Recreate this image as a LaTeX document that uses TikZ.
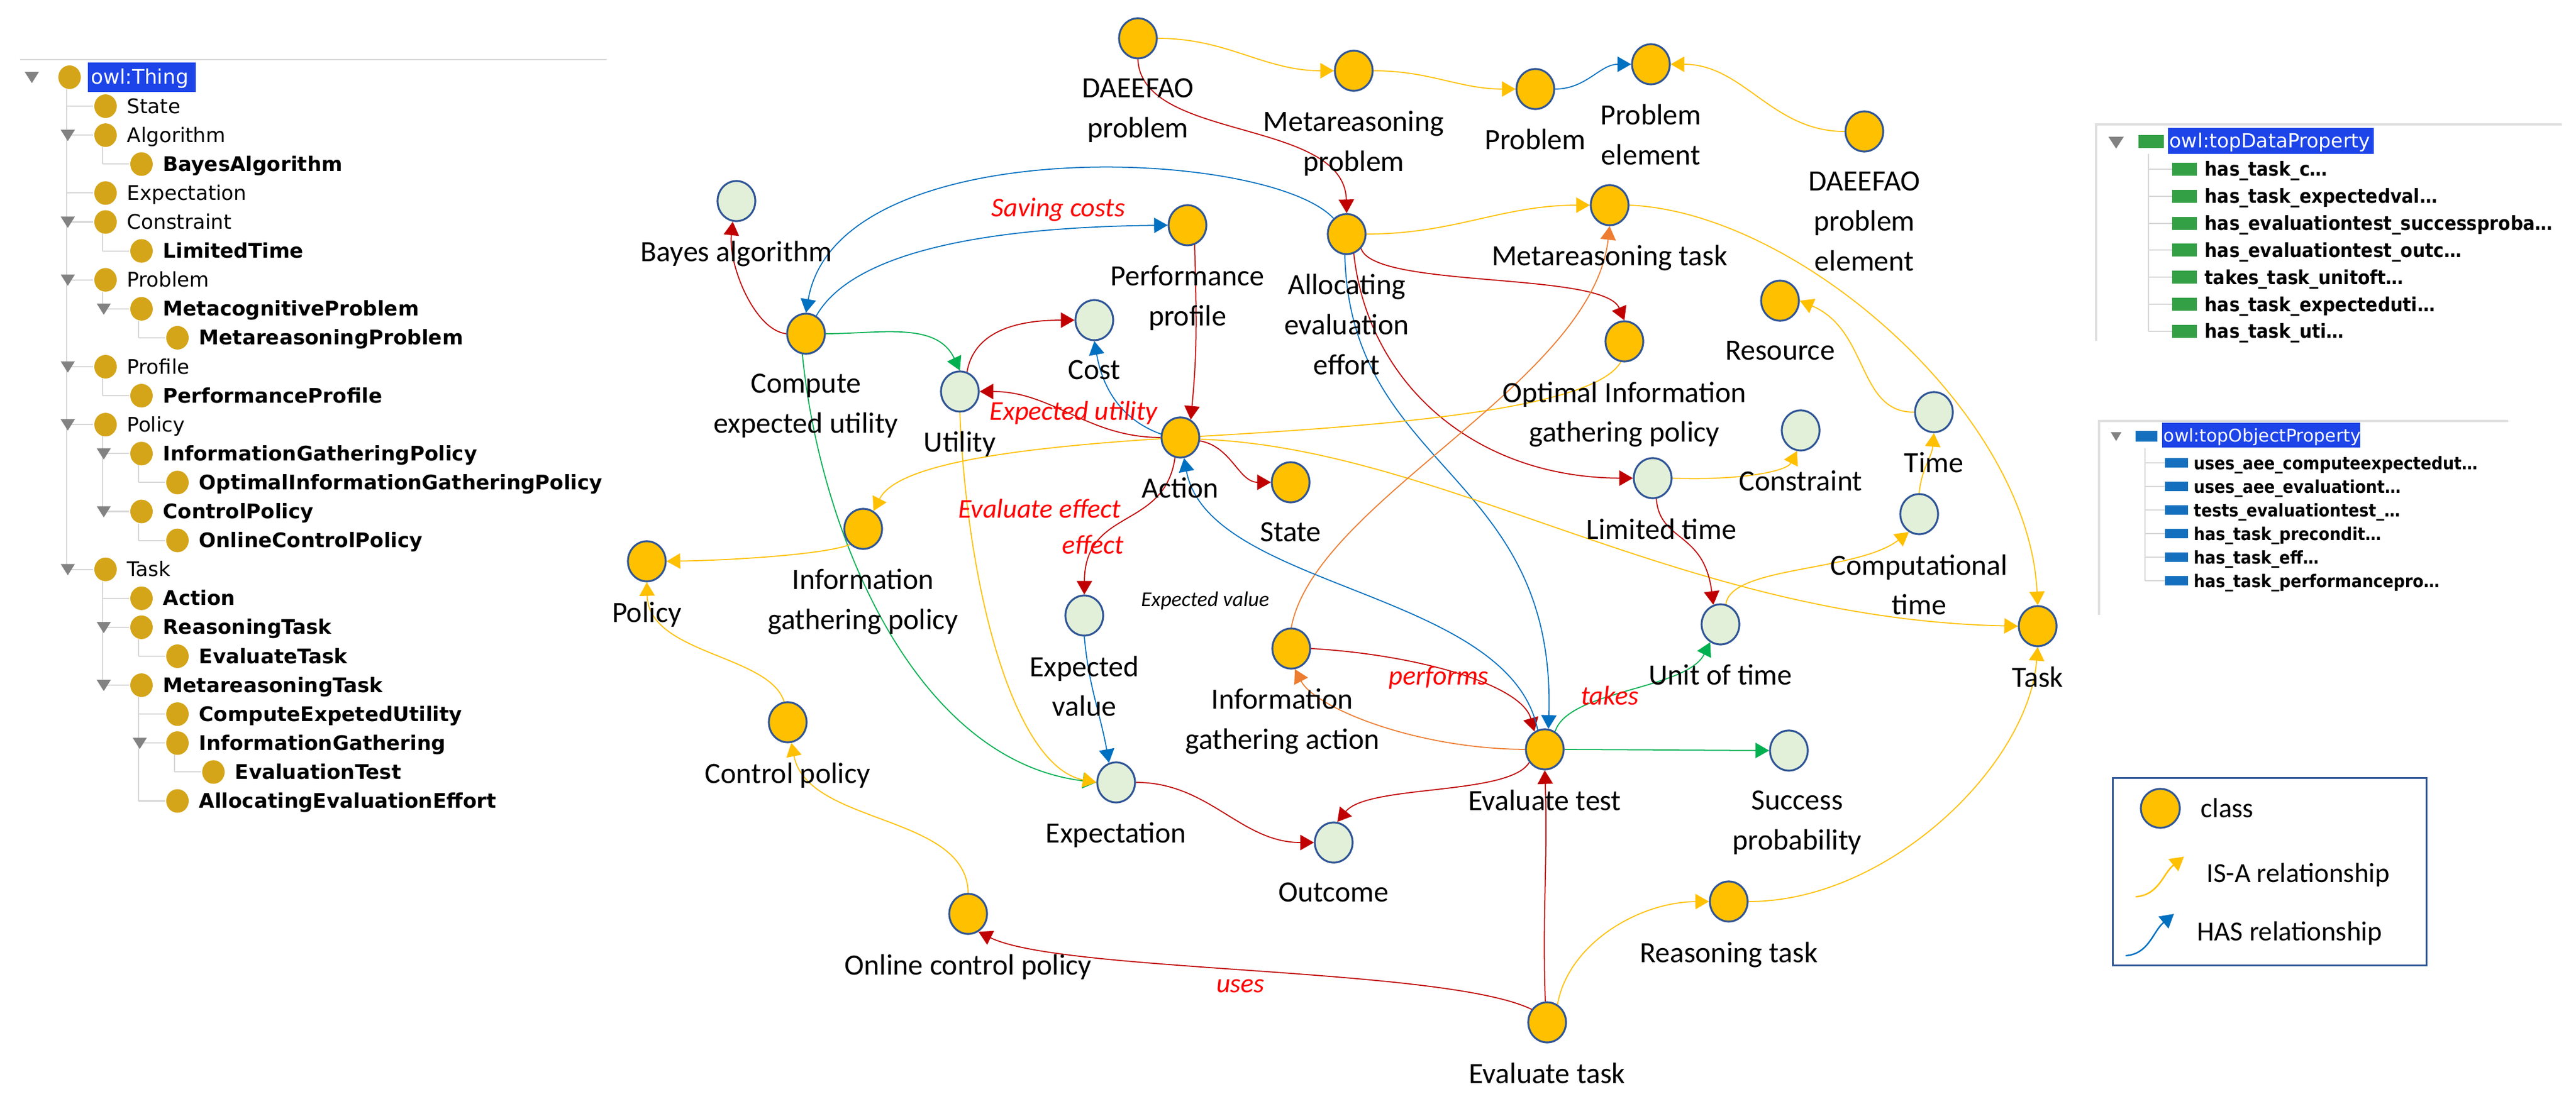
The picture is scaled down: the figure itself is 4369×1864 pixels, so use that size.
\documentclass[tikz,border=0pt]{standalone}
\usepackage{fontspec}
\setmainfont{Carlito}
\newfontfamily\protegefont{DejaVu Sans}
\usepackage{graphicx}
\usetikzlibrary{shapes.geometric,arrows.meta,backgrounds}

\definecolor{clsfill}{RGB}{255,192,0}
\definecolor{clsline}{RGB}{47,85,151}
\definecolor{valfill}{RGB}{226,240,217}
\definecolor{isacol}{RGB}{255,192,0}
\definecolor{hascol}{RGB}{0,112,192}
\definecolor{redcol}{RGB}{192,0,0}
\definecolor{greencol}{RGB}{0,176,80}
\definecolor{orangecol}{RGB}{237,125,49}
\definecolor{lblred}{RGB}{255,0,0}
\definecolor{treegold}{RGB}{212,165,25}
\definecolor{treeline}{RGB}{215,215,215}
\definecolor{treearrow}{RGB}{130,130,130}
\definecolor{selblue}{RGB}{28,68,232}
\definecolor{dpgreen}{RGB}{52,160,70}
\definecolor{opblue}{RGB}{20,112,190}

\tikzset{
	classnode/.style={ellipse, draw=clsline, line width=0.9pt, fill=clsfill,
		minimum width=0.64cm, minimum height=0.68cm, inner sep=0pt},
	valuenode/.style={classnode, fill=valfill},
	lbl/.style={align=center, font=\fontsize{14.2}{19.3}\selectfont, inner sep=0pt, label distance=0.32cm},
	relline/.style={line width=0.5pt, -{Triangle[length=0.23cm,width=0.26cm]}},
	isa/.style={relline, draw=isacol},
	hasrel/.style={relline, draw=hascol},
	redrel/.style={relline, draw=redcol},
	greenrel/.style={relline, draw=greencol},
	orangerel/.style={relline, draw=orangecol},
	rellbl/.style={anchor=base, inner sep=0pt, text=lblred, font=\fontsize{13.1}{15}\selectfont\itshape},
	smalllbl/.style={anchor=base, inner sep=0pt, font=\fontsize{10.2}{12}\selectfont\itshape},
	treedot/.style={ellipse, fill=treegold, minimum width=0.38cm, minimum height=0.40cm, inner sep=0pt},
	treetext/.style={anchor=base west, inner sep=0pt, font=\protegefont\fontsize{9.7}{11}\selectfont},
	treelink/.style={draw=treeline, line width=0.6pt},
	panelline/.style={draw=black!12, line width=1.2pt},
	selbox/.style={fill=selblue, inner sep=0pt, anchor=west},
	dptext/.style={anchor=base west, inner sep=0pt, font=\protegefont\fontsize{9.4}{11}\selectfont},
	optext/.style={anchor=base west, inner sep=0pt, font=\protegefont\fontsize{8.5}{10}\selectfont},
	legtext/.style={anchor=base west, inner sep=0pt, font=\fontsize{13.3}{15}\selectfont}
}

\begin{document}
\begin{tikzpicture}[x=0.01cm,y=-0.01cm]
	\useasboundingbox (0,0) rectangle (4369,1864);

	% class hierarchy
	\draw[black!15, line width=0.8pt] (34,101) -- (1029,101);
	\foreach \p/\l/\c in {0/0/17, 2/1/3, 5/1/6, 7/1/8, 8/2/9, 10/1/11, 12/1/15, 13/2/14, 15/2/16, 17/1/21, 19/2/20, 21/2/25, 23/3/24}
		\draw[treelink] ({113+61*\l},{151+49.1*\p}) -- ({113+61*\l},{131+49.1*\c});
	\foreach \row/\lvl/\name in {1/1/State, 2/1/Algorithm, 4/1/Expectation, 5/1/Constraint, 7/1/Problem, 10/1/Profile, 12/1/Policy, 17/1/Task}{
		\draw[treelink] ({52+61*\lvl},{131+49.1*\row}) -- ({97+61*\lvl},{131+49.1*\row});
		\node[treedot] (dot\row) at ({118+61*\lvl},{131+49.1*\row}) {};
		\node[treetext] (item\row) at ({154+61*\lvl},{143+49.1*\row}) {\name};
	}
	\foreach \row/\lvl/\name in {3/2/BayesAlgorithm, 6/2/LimitedTime, 8/2/MetacognitiveProblem, 9/3/MetareasoningProblem,
		11/2/PerformanceProfile, 13/2/InformationGatheringPolicy, 14/3/OptimalInformationGatheringPolicy,
		15/2/ControlPolicy, 16/3/OnlineControlPolicy, 18/2/Action, 19/2/ReasoningTask, 20/3/EvaluateTask,
		21/2/MetareasoningTask, 22/3/ComputeExpetedUtility, 23/3/InformationGathering, 24/4/EvaluationTest,
		25/3/AllocatingEvaluationEffort}{
		\draw[treelink] ({52+61*\lvl},{131+49.1*\row}) -- ({97+61*\lvl},{131+49.1*\row});
		\node[treedot] (dot\row) at ({118+61*\lvl},{131+49.1*\row}) {};
		\node[treetext] (item\row) at ({154+61*\lvl},{143+49.1*\row}) {\bfseries\name};
	}
	\foreach \row/\lvl in {0/0, 2/1, 5/1, 7/1, 8/2, 10/1, 12/1, 13/2, 15/2, 17/1, 19/2, 21/2, 23/3}
		\fill[treearrow] ({42+61*\lvl},{122+49.1*\row}) -- ++(24,0) -- ++(-12,19) -- cycle;
	\node[treedot] (dot0) at (118,131) {};
	\node[selbox, minimum width=1.83cm, minimum height=0.50cm] (thingsel) at (148,131) {};
	\node[treetext, text=white] (item0) at (154,143) {owl:Thing};

	% data properties
	\draw[panelline] (3555,578) -- (3555,211) -- (4345,211);
	\fill[treearrow] (3576,232) -- ++(26,0) -- ++(-13,20) -- cycle;
	\node[fill=dpgreen, minimum width=0.43cm, minimum height=0.21cm, inner sep=0pt] (dphead) at (3648,240) {};
	\node[selbox, minimum width=3.49cm, minimum height=0.44cm] (dpsel) at (3676,239) {};
	\node[dptext, text=white] (dptitle) at (3679,251) {owl:topDataProperty};
	\draw[treelink] (3644,261) -- (3644,562);
	\foreach \k/\pname in {0/has\_task\_c\dots, 1/has\_task\_expectedval\dots, 2/has\_evaluationtest\_successproba\dots,
		3/has\_evaluationtest\_outc\dots, 4/takes\_task\_unitoft\dots, 5/has\_task\_expecteduti\dots, 6/has\_task\_uti\dots}{
		\draw[treelink] (3644,{287+45.8*\k}) -- (3684,{287+45.8*\k});
		\node[fill=dpgreen, minimum width=0.42cm, minimum height=0.22cm, inner sep=0pt] (dpicon\k) at (3705,{287+45.8*\k}) {};
		\node[dptext] (dpname\k) at (3739,{299+45.8*\k}) {\scalebox{0.9}[1]{\bfseries\pname}};
	}

	% object properties
	\draw[panelline] (3560,1043) -- (3560,714) -- (4254,714);
	\fill[treearrow] (3580,733) -- ++(18,0) -- ++(-9,15) -- cycle;
	\node[fill=opblue, minimum width=0.37cm, minimum height=0.18cm, inner sep=0pt] (ophead) at (3640,740) {};
	\node[selbox, minimum width=3.36cm, minimum height=0.41cm] (opsel) at (3666,738) {};
	\node[optext, text=white] (optitle) at (3669,749) {owl:topObjectProperty};
	\draw[treelink] (3638,760) -- (3638,985);
	\foreach \k/\pname in {0/uses\_aee\_computeexpectedut\dots, 1/uses\_aee\_evaluationt\dots, 2/tests\_evaluationtest\_\dots,
		3/has\_task\_precondit\dots, 4/has\_task\_eff\dots, 5/has\_task\_performancepro\dots}{
		\draw[treelink] (3638,{785+40*\k}) -- (3672,{785+40*\k});
		\node[fill=opblue, minimum width=0.39cm, minimum height=0.16cm, inner sep=0pt] (opicon\k) at (3691,{785+40*\k}) {};
		\node[optext] (opname\k) at (3720,{796+40*\k}) {\scalebox{0.9}[1]{\bfseries\pname}};
	}

	% ontology graph
	\node[classnode, label={[lbl]below:DAEEFAO\\problem}] (dp) at (1930,65) {};
	\node[classnode, label={[lbl]below:Metareasoning\\problem}] (mp) at (2296,120) {};
	\node[classnode, label={[lbl]below:Problem}] (prob) at (2604,151) {};
	\node[classnode, label={[lbl]below:Problem\\element}] (pe) at (2800,109) {};
	\node[classnode, label={[lbl]below:DAEEFAO\\problem\\element}] (dpe) at (3162,223) {};
	\node[valuenode, label={[lbl]below:Bayes algorithm}] (bayes) at (1249,341) {};
	\node[classnode, label={[lbl]below:Performance\\profile}] (pp) at (2014,382) {};
	\node[classnode, label={[lbl]below:Allocating\\evaluation\\effort}] (aee) at (2284,397) {};
	\node[classnode, label={[lbl]below:Metareasoning task}] (mt) at (2730,348) {};
	\node[classnode, label={[lbl]below:Compute\\expected utility}] (ceu) at (1367,566) {};
	\node[valuenode, label={[lbl]below:Cost}] (cost) at (1856,543) {};
	\node[valuenode, label={[lbl]below:Utility}] (util) at (1628,664) {};
	\node[classnode, label={[lbl]below:Optimal Information\\gathering policy}] (oigp) at (2755,579) {};
	\node[classnode, label={[lbl]below:Resource}] (res) at (3019,510) {};
	\node[valuenode, label={[lbl]below:Time}] (time) at (3280,699) {};
	\node[valuenode, label={[lbl]below:Constraint}] (cons) at (3054,730) {};
	\node[classnode, label={[lbl]below:Action}] (action) at (2002,742) {};
	\node[classnode, label={[lbl]below:State}] (state) at (2189,818) {};
	\node[valuenode, label={[lbl, xshift=0.15cm]below:Limited time}] (lt) at (2803,811) {};
	\node[classnode, label={[lbl]below:Information\\gathering policy}] (igp) at (1464,897) {};
	\node[classnode, label={[lbl]below:Policy}] (policy) at (1097,952) {};
	\node[valuenode, label={[lbl]below:Computational\\time}] (ct) at (3255,872) {};
	\node[valuenode, label={[lbl]below:Expected\\value}] (ev) at (1839,1044) {};
	\node[valuenode, label={[lbl]below:Unit of time}] (uot) at (2918,1059) {};
	\node[classnode, label={[lbl]below:Task}] (task) at (3456,1062) {};
	\node[classnode, label={[lbl, xshift=-0.15cm]below:Information\\gathering action}] (iga) at (2190,1100) {};
	\node[classnode, label={[lbl]below:Control policy}] (cp) at (1336,1225) {};
	\node[classnode, label={[lbl]below:Evaluate test}] (et) at (2620,1271) {};
	\node[valuenode, label={[lbl, xshift=0.14cm]below:Success\\probability}] (sp) at (3034,1273) {};
	\node[valuenode, label={[lbl]below:Expectation}] (expn) at (1893,1327) {};
	\node[valuenode, label={[lbl]below:Outcome}] (outcome) at (2262,1429) {};
	\node[classnode, label={[lbl]below:Reasoning task}] (rt) at (2932,1529) {};
	\node[classnode, label={[lbl]below:Online control policy}] (ocp) at (1642,1550) {};
	\node[classnode, label={[lbl]below:Evaluate task}] (etask) at (2624,1734) {};

	\node[rellbl] (lsaving) at (1795,368) {Saving costs};
	\node[rellbl] (lexputil) at (1821,712) {Expected utility};
	\node[rellbl] (levaleff) at (1763,878) {Evaluate effect};
	\node[rellbl] (leffect) at (1854,939) {effect};
	\node[smalllbl] (lexpval) at (2044,1028) {Expected value};
	\node[rellbl] (lperforms) at (2440,1161) {performs};
	\node[rellbl] (ltakes) at (2730,1195) {takes};
	\node[rellbl] (luses) at (2104,1683) {uses};

	% legend
	\node[draw=clsline, line width=0.85pt, minimum width=5.31cm, minimum height=3.17cm, inner sep=0pt] (legend) at (3849.5,1478.5) {};
	\node[classnode, minimum width=0.66cm, minimum height=0.66cm] (legcls) at (3664,1371) {};
	\node[legtext] (legclstxt) at (3732,1386) {class};
	\coordinate (isafrom) at (3622,1521);
	\coordinate (isato) at (3704,1453);
	\coordinate (hasfrom) at (3605,1621);
	\coordinate (hasto) at (3687,1550);
	\node[legtext] (legisatxt) at (3742,1496) {IS-A relationship};
	\node[legtext] (leghastxt) at (3726,1595) {HAS relationship};

	\begin{scope}[on background layer]
		\fill[white] (0,0) rectangle (4369,1864);
		\draw[isa, line width=0.7pt] (isafrom) .. controls (3662,1518) and (3668,1482) .. (isato);
		\draw[hasrel, line width=0.7pt] (hasfrom) .. controls (3645,1618) and (3651,1580) .. (hasto);

		\draw[isa] (dp.east) to[out=0,in=180] (mp.west);
		\draw[isa] (mp.east) to[out=0,in=180] (prob.west);
		\draw[hasrel] (prob.east) to[out=0,in=180] (pe.west);
		\draw[isa] (dpe.west) to[out=180,in=0] (pe.east);
		\draw[redrel] (dp.south) .. controls (1935,240) and (2280,200) .. (aee.north);

		\draw[isa] (aee.east) to[out=0,in=180] (mt.west);
		\draw[redrel] (aee.-45) .. controls (2330,490) and (2720,460) .. (oigp.north);
		\draw[redrel] (aee.-70) .. controls (2320,650) and (2500,810) .. (lt.west);
		\draw[hasrel] (aee.130) .. controls (2150,250) and (1420,220) .. (ceu.north);
		\draw[hasrel] (aee.-95) .. controls (2290,800) and (2640,800) .. (et.80);
		\draw[isa] (mt.east) .. controls (3050,360) and (3440,700) .. (task.north);

		\draw[hasrel] (ceu.60) .. controls (1450,420) and (1700,385) .. (pp.west);
		\draw[redrel] (ceu.west) .. controls (1280,560) and (1235,450) .. (bayes.-100);
		\draw[greenrel] (ceu.east) to[out=0,in=115] (util.north);
		\draw[greenrel] (ceu.-100) .. controls (1390,900) and (1550,1290) .. (expn.west);

		\draw[redrel] (util.70) to[out=80,in=180] (cost.west);
		\draw[hasrel] (action.170) to[out=160,in=-80] (cost.south);
		\draw[redrel] (action.west) to[out=180,in=0] (util.east);
		\draw[redrel] (pp.-70) .. controls (2030,550) and (2030,600) .. (action.60);
		\draw[redrel] (action.-10) to[out=-10,in=180] (state.west);
		\draw[redrel] (action.-105) .. controls (1975,900) and (1840,860) .. (ev.north);
		\draw[isa] (oigp.-100) .. controls (2700,700) and (2300,725) .. (action.center)
			.. controls (1700,760) and (1520,790) .. (igp.60);
		\draw[isa] (action.-5) .. controls (2450,760) and (2850,1050) .. (task.west);

		\draw[isa] (lt.east) .. controls (2950,815) and (3030,800) .. (cons.-100);
		\draw[redrel] (lt.-80) .. controls (2815,920) and (2890,900) .. (uot.110);
		\draw[isa] (time.west) .. controls (3150,700) and (3170,560) .. (res.east);
		\draw[isa] (ct.north) to[out=85,in=-95] (time.south);
		\draw[isa] (uot.75) .. controls (2935,960) and (3150,970) .. (ct.-120);

		\draw[greenrel] (et.60) .. controls (2660,1170) and (2860,1170) .. (uot.-120);
		\draw[redrel] (iga.east) .. controls (2400,1110) and (2580,1160) .. (et.120);
		\draw[orangerel] (et.west) .. controls (2400,1270) and (2230,1200) .. (iga.-80);
		\draw[orangerel] (iga.north) .. controls (2230,850) and (2700,650) .. (mt.south);
		\draw[hasrel] (et.110) .. controls (2560,1000) and (2050,1000) .. (action.-80);
		\draw[greenrel] (et.east) -- (sp.west);
		\draw[redrel] (et.-140) .. controls (2560,1350) and (2320,1330) .. (outcome.80);
		\draw[redrel] (expn.east) to[out=0,in=180] (outcome.west);

		\draw[redrel] (etask.95) to[out=92,in=-88] (et.south);
		\draw[redrel] (etask.140) .. controls (2450,1640) and (1800,1650) .. (ocp.-60);
		\draw[isa] (etask.60) .. controls (2660,1600) and (2780,1530) .. (rt.west);
		\draw[isa] (rt.east) .. controls (3200,1530) and (3440,1300) .. (task.south);

		\draw[isa] (util.south) .. controls (1640,1000) and (1720,1300) .. (expn.west);
		\draw[hasrel] (ev.south) to[out=-85,in=100] (expn.110);
		\draw[isa] (igp.-130) .. controls (1400,940) and (1250,950) .. (policy.east);
		\draw[isa] (cp.100) .. controls (1305,1110) and (1100,1110) .. (policy.south);
		\draw[isa] (ocp.north) .. controls (1640,1380) and (1370,1400) .. (cp.-80);
	\end{scope}
\end{tikzpicture}
\end{document}
